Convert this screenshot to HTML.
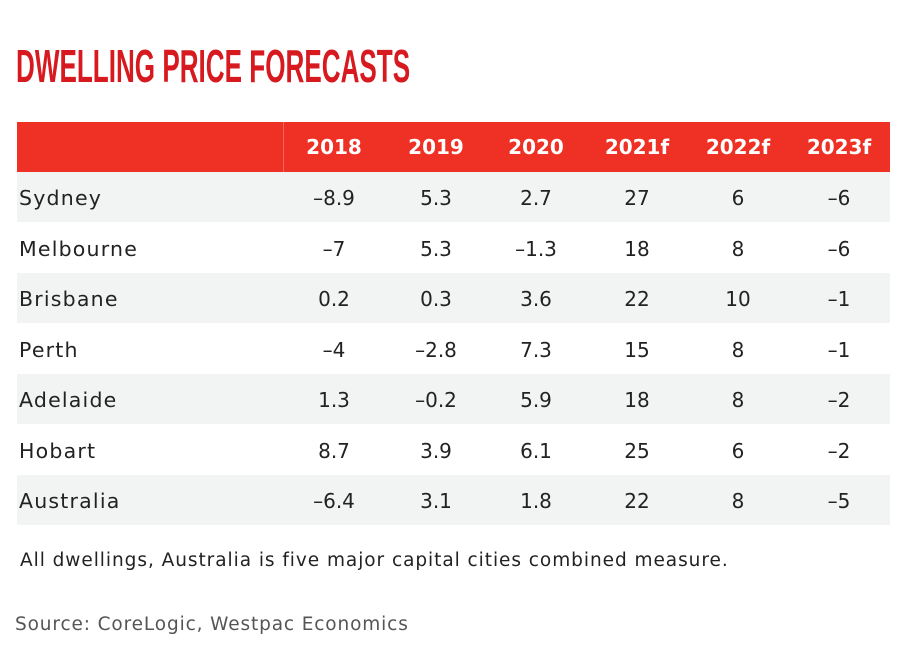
<!DOCTYPE html>
<html><head><style>
body{margin:0;width:915px;height:652px;background:#fff;position:relative;overflow:hidden;font-family:"DejaVu Sans","Liberation Sans",sans-serif;}
.t{position:absolute;left:16px;top:42px;font-family:"Liberation Sans",sans-serif;font-weight:bold;font-size:46px;color:#d71a1f;white-space:nowrap;transform:scaleX(0.567);transform-origin:0 0;line-height:48px;}
.hdr{position:absolute;left:17px;top:122px;width:873px;height:50px;background:#ee3124;}
.sep{position:absolute;left:283px;top:122px;width:1px;height:50px;background:#f2675c;}
.row{position:absolute;left:17px;width:873px;height:50px;}
.g{background:#f2f3f3;}
.c{position:absolute;width:100px;text-align:center;font-size:20px;color:#222;line-height:50px;}
.h{color:#fff;font-weight:bold;font-size:20px;}
.n{position:absolute;left:19px;font-size:20.5px;color:#222;line-height:50px;letter-spacing:1.2px;}
.f{position:absolute;left:20px;top:550px;font-size:18.5px;color:#222;letter-spacing:0.95px;white-space:nowrap;}
.s{position:absolute;left:15px;top:614px;font-size:18.5px;color:#555;letter-spacing:0.87px;white-space:nowrap;}
</style></head><body>
<div class="t">DWELLING PRICE FORECASTS</div>
<div class="hdr"></div><div class="sep"></div>
<div style="position:absolute;top:122px;left:0;width:915px;height:50px">
<div class="c h" style="left:284px">2018</div><div class="c h" style="left:386px">2019</div><div class="c h" style="left:486px">2020</div><div class="c h" style="left:587px">2021f</div><div class="c h" style="left:688px">2022f</div><div class="c h" style="left:789px">2023f</div>
</div>
<div class="row g" style="top:172px"></div>
<div class="row" style="top:222.5px"></div>
<div class="row g" style="top:273px"></div>
<div class="row" style="top:323.5px"></div>
<div class="row g" style="top:374px"></div>
<div class="row" style="top:424.5px"></div>
<div class="row g" style="top:475px"></div>

<div style="position:absolute;top:173px;left:0;width:915px"><div class="n">Sydney</div><div class="c" style="left:284px">–8.9</div><div class="c" style="left:386px">5.3</div><div class="c" style="left:486px">2.7</div><div class="c" style="left:587px">27</div><div class="c" style="left:688px">6</div><div class="c" style="left:789px">–6</div></div>
<div style="position:absolute;top:223.5px;left:0;width:915px"><div class="n">Melbourne</div><div class="c" style="left:284px">–7</div><div class="c" style="left:386px">5.3</div><div class="c" style="left:486px">–1.3</div><div class="c" style="left:587px">18</div><div class="c" style="left:688px">8</div><div class="c" style="left:789px">–6</div></div>
<div style="position:absolute;top:274px;left:0;width:915px"><div class="n">Brisbane</div><div class="c" style="left:284px">0.2</div><div class="c" style="left:386px">0.3</div><div class="c" style="left:486px">3.6</div><div class="c" style="left:587px">22</div><div class="c" style="left:688px">10</div><div class="c" style="left:789px">–1</div></div>
<div style="position:absolute;top:324.5px;left:0;width:915px"><div class="n">Perth</div><div class="c" style="left:284px">–4</div><div class="c" style="left:386px">–2.8</div><div class="c" style="left:486px">7.3</div><div class="c" style="left:587px">15</div><div class="c" style="left:688px">8</div><div class="c" style="left:789px">–1</div></div>
<div style="position:absolute;top:375px;left:0;width:915px"><div class="n">Adelaide</div><div class="c" style="left:284px">1.3</div><div class="c" style="left:386px">–0.2</div><div class="c" style="left:486px">5.9</div><div class="c" style="left:587px">18</div><div class="c" style="left:688px">8</div><div class="c" style="left:789px">–2</div></div>
<div style="position:absolute;top:425.5px;left:0;width:915px"><div class="n">Hobart</div><div class="c" style="left:284px">8.7</div><div class="c" style="left:386px">3.9</div><div class="c" style="left:486px">6.1</div><div class="c" style="left:587px">25</div><div class="c" style="left:688px">6</div><div class="c" style="left:789px">–2</div></div>
<div style="position:absolute;top:476px;left:0;width:915px"><div class="n">Australia</div><div class="c" style="left:284px">–6.4</div><div class="c" style="left:386px">3.1</div><div class="c" style="left:486px">1.8</div><div class="c" style="left:587px">22</div><div class="c" style="left:688px">8</div><div class="c" style="left:789px">–5</div></div>

<div class="f">All dwellings, Australia is five major capital cities combined measure.</div>
<div class="s">Source: CoreLogic, Westpac Economics</div>
</body></html>
